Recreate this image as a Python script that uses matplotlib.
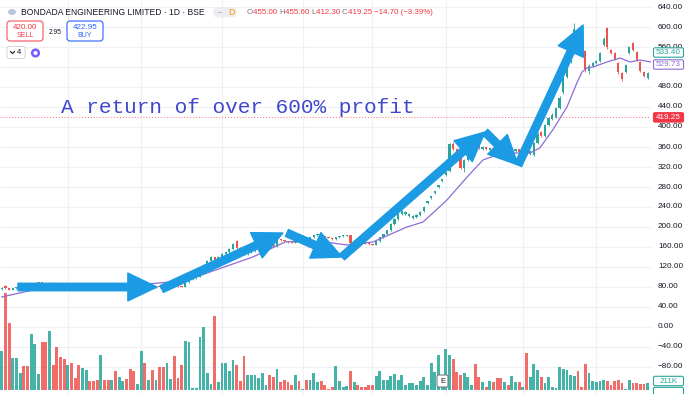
import matplotlib
matplotlib.use('Agg')
import matplotlib.pyplot as plt
from matplotlib.patches import FancyArrowPatch, FancyBboxPatch, Circle, Ellipse
from matplotlib.transforms import blended_transform_factory as blend

# ---------------- data ----------------
opens = [76, 82, 78, 75, 78, 80, 82, 80, 79, 84,
         88, 90, 87, 85, 89, 87, 85, 83, 81, 83,
         81, 80, 78, 80, 82, 81, 80, 79, 83, 82,
         81, 82, 80, 81, 82, 81, 79, 78, 79, 83,
         81, 82, 80, 82, 80, 79, 83, 85, 83, 82,
         81, 90, 96, 98, 101, 110, 124, 132, 140, 134,
         140, 146, 150, 156, 172, 158, 152, 146, 150, 152,
         156, 160, 164, 168, 165, 162, 176, 174, 172, 170,
         169, 176, 174, 180, 177, 180, 184, 186, 182, 180,
         179, 176, 180, 182, 183, 184, 168, 172, 170, 168,
         167, 166, 165, 172, 180, 186, 194, 206, 216, 226,
         226, 222, 218, 220, 224, 232, 248, 258, 268, 280,
         292, 304, 312, 366, 356, 344, 318, 334, 342, 380,
         368, 356, 360, 354, 358, 354, 350, 346, 354, 348,
         352, 356, 348, 354, 346, 344, 368, 390, 382, 404,
         416, 420, 438, 470, 500, 530, 562, 574, 566, 552,
         512, 522, 528, 532, 564, 598, 554, 548, 528, 508,
         510, 548, 568, 550, 530, 510, 498]
closes = [79, 78, 75, 78, 80, 82, 80, 79, 84, 88,
          90, 87, 85, 89, 87, 85, 83, 81, 83, 81,
          80, 78, 80, 82, 81, 80, 79, 83, 82, 81,
          82, 80, 81, 82, 81, 79, 78, 79, 83, 81,
          82, 80, 82, 80, 79, 83, 85, 83, 82, 81,
          90, 96, 98, 101, 110, 124, 132, 140, 134, 140,
          146, 150, 156, 166, 158, 152, 146, 150, 152, 156,
          160, 164, 168, 165, 162, 176, 174, 172, 170, 169,
          176, 174, 180, 177, 180, 184, 186, 182, 180, 179,
          176, 180, 182, 183, 184, 168, 172, 170, 168, 167,
          166, 165, 172, 180, 186, 194, 206, 216, 226, 232,
          230, 226, 222, 224, 230, 240, 252, 262, 272, 284,
          296, 310, 366, 356, 344, 318, 334, 342, 372, 368,
          360, 360, 356, 358, 354, 350, 346, 354, 350, 352,
          356, 350, 352, 346, 352, 368, 386, 382, 404, 418,
          424, 438, 458, 500, 530, 560, 596, 566, 552, 514,
          522, 528, 532, 548, 576, 560, 548, 536, 510, 496,
          524, 560, 554, 534, 512, 502, 508]
highs = [80, 84, 79, 79, 81, 83, 83, 81, 85, 89,
         91, 91, 88, 90, 90, 88, 86, 84, 84, 84,
         82, 81, 81, 83, 83, 82, 81, 84, 84, 83,
         83, 83, 82, 83, 83, 82, 80, 80, 84, 84,
         83, 83, 83, 83, 81, 84, 86, 86, 84, 83,
         92, 98, 99, 102, 112, 126, 134, 142, 141, 142,
         148, 152, 158, 168, 174, 160, 154, 151, 154, 157,
         161, 165, 169, 169, 166, 178, 177, 175, 173, 171,
         177, 177, 184, 181, 181, 185, 187, 187, 183, 181,
         180, 181, 183, 184, 185, 185, 173, 173, 171, 169,
         168, 167, 173, 181, 187, 195, 208, 218, 228, 234,
         232, 228, 224, 226, 232, 242, 253, 263, 273, 285,
         297, 311, 368, 370, 358, 346, 336, 344, 380, 384,
         370, 362, 361, 359, 359, 356, 352, 356, 355, 353,
         357, 357, 353, 356, 354, 370, 390, 392, 406, 420,
         428, 440, 462, 520, 540, 570, 608, 580, 568, 554,
         526, 530, 534, 550, 580, 600, 556, 550, 530, 510,
         526, 562, 570, 552, 532, 512, 510]
lows = [75, 77, 74, 74, 77, 79, 79, 78, 78, 83,
        87, 86, 84, 84, 86, 84, 82, 80, 80, 80,
        79, 77, 77, 79, 80, 79, 78, 78, 81, 80,
        80, 79, 79, 80, 80, 78, 77, 77, 78, 80,
        80, 79, 79, 79, 78, 78, 82, 82, 81, 80,
        80, 89, 95, 97, 100, 109, 122, 130, 132, 133,
        139, 145, 149, 155, 156, 150, 144, 145, 149, 151,
        155, 159, 163, 164, 161, 161, 173, 171, 169, 168,
        168, 173, 173, 176, 176, 179, 183, 181, 179, 178,
        175, 175, 179, 181, 182, 166, 167, 169, 167, 166,
        165, 164, 164, 171, 179, 185, 193, 205, 215, 225,
        224, 220, 217, 219, 223, 231, 247, 257, 267, 279,
        291, 303, 310, 354, 342, 316, 310, 332, 340, 366,
        356, 354, 354, 353, 352, 348, 344, 345, 348, 347,
        350, 348, 347, 344, 345, 342, 366, 380, 380, 402,
        414, 418, 436, 466, 498, 528, 560, 562, 548, 510,
        506, 520, 526, 530, 562, 556, 546, 534, 506, 492,
        508, 546, 552, 532, 510, 500, 496]
volume_k = [1170, 2910, 2010, 960, 960, 510, 720, 720, 1680, 1380,
            480, 1440, 1440, 1770, 750, 1290, 990, 930, 750, 810,
            360, 750, 660, 600, 270, 270, 300, 1050, 300, 300,
            300, 570, 390, 270, 330, 630, 570, 180, 1170, 810,
            300, 600, 300, 690, 690, 810, 330, 1020, 360, 750,
            1470, 1440, 60, 60, 1590, 1890, 510, 180, 2220, 240,
            810, 810, 570, 900, 750, 270, 1020, 450, 450, 450,
            360, 510, 150, 450, 390, 630, 240, 300, 240, 150,
            450, 270, 30, 300, 300, 510, 240, 270, 150, 30,
            90, 720, 270, 90, 120, 570, 240, 150, 90, 90,
            150, 150, 420, 570, 300, 300, 420, 480, 300, 450,
            150, 210, 210, 150, 270, 390, 150, 810, 540, 1050,
            300, 1230, 1050, 930, 540, 450, 510, 390, 150, 780,
            390, 240, 90, 270, 240, 360, 360, 240, 150, 420,
            240, 240, 90, 1110, 390, 780, 600, 390, 210, 390,
            90, 60, 690, 630, 600, 450, 420, 570, 90, 780,
            510, 270, 240, 270, 300, 270, 150, 270, 300, 210,
            30, 300, 210, 210, 180, 180, 210]

# moving average readings: (bar index, value)
ma_bars = [0, 8.5, 26.8, 43, 50.5, 68.4, 77.2, 81.3, 90.2, 94, 101.1, 110.4,
           114.8, 121.3, 126.8, 131.1, 134.9, 139.3, 143.9, 146.6, 150.2, 154,
           156.7, 158.1, 159.4, 161.1, 164.9, 168.5, 171.2, 173.9, 176.9]
ma_vals = [60, 74, 80, 88, 94, 140, 170, 172, 168, 164, 170, 200,
           210, 254, 300, 334, 344, 348, 348, 358, 395, 440,
           488, 510, 518, 520, 530, 538, 530, 534, 530]

last_price = 419.25
price_ticks = [640, 600, 560, 520, 480, 440, 400, 360, 320, 280, 240, 200,
               160, 120, 80, 40, 0, -40, -80, -120]
hidden_tick_labels = [520, -120]   # covered by the value tags in the reference
month_bars = [18, 38, 60, 82, 101, 121, 142, 162]

# hand-drawn annotation arrows: (bar, price) -> (bar, price)
arrow_segments = [((4.4, 80), (42.3, 80)),
                  ((43.6, 76), (76.6, 188)),
                  ((77.7, 188), (92.7, 140)),
                  ((92.7, 140), (131.7, 390)),
                  ((131.7, 390), (140.7, 324)),
                  ((140.7, 324), (158.4, 604))]
annotation_text = "A return of over 600% profit"

title = "BONDADA ENGINEERING LIMITED \u00b7 1D \u00b7 BSE"
ohlc_parts = [("O", "455.00"), ("H", "455.60"), ("L", "412.30"), ("C", "419.25")]
change_text = "\u221214.70 (\u22123.39%)"

# ---------------- figure ----------------
W, H = 693, 394
fig = plt.figure(figsize=(W / 100, H / 100), dpi=100)
fig.patch.set_facecolor('white')
renderer = fig.canvas.get_renderer()

PLOT_W = 651
rect = [0, 0, PLOT_W / W, 1]
ax_v = fig.add_axes(rect)
ax = fig.add_axes(rect, sharex=ax_v)
ax.patch.set_alpha(0)
for a in (ax, ax_v):
    a.set_axis_off()

n = len(closes)
ax_v.set_xlim(-0.49, 176.9)
ax.set_ylim(-134, 654)
ax_v.set_ylim(-120, 11700)

UP, DN = '#26a69a', '#ef5350'
colors = [UP if c >= o else DN for o, c in zip(opens, closes)]

# grid
ax_v.hlines(price_ticks, 0, 1, transform=blend(ax_v.transAxes, ax.transData),
            color='#eef0f5', lw=0.8, zorder=0)
ax_v.vlines(month_bars, 0, 1, transform=blend(ax_v.transData, ax_v.transAxes),
            color='#eef0f5', lw=0.8, zorder=0)

# volume
ax_v.bar(range(n), volume_k, width=0.78, color=colors, alpha=0.85, zorder=2,
         linewidth=0)

# candles
ax.vlines(range(n), lows, highs, color=colors, lw=0.6, zorder=3)
bodies = [max(abs(c - o), 1.2) for o, c in zip(opens, closes)]
bottoms = [min(o, c) for o, c in zip(opens, closes)]
ax.bar(range(n), bodies, bottom=bottoms, width=0.62, color=colors, zorder=3,
       linewidth=0)

# MA line
ax.plot(ma_bars, ma_vals, color='#8d6cd4', lw=0.9, zorder=4)

# last price line
ax.axhline(last_price, color='#f23645', lw=0.7, ls=(0, (1, 2)), alpha=0.7, zorder=2)

# arrows
for (p0, p1) in arrow_segments:
    arr = FancyArrowPatch(p0, p1, arrowstyle='simple,head_length=21,head_width=20,tail_width=5.4',
                          mutation_scale=1, color='#1b9be3', shrinkA=0, shrinkB=0,
                          zorder=6, joinstyle='round', capstyle='round')
    ax.add_patch(arr)

# ---------------- overlay (pixel coords) ----------------
ov = fig.add_axes([0, 0, 1, 1], zorder=10)
ov.set_xlim(0, W)
ov.set_ylim(H, 0)
ov.set_axis_off()
ov.patch.set_alpha(0)

UI = 'Liberation Sans'
MONO = 'Liberation Mono'


def measure(s, size, family, weight='normal'):
    t = fig.text(0, 0, s, fontsize=size, family=family, weight=weight)
    w = t.get_window_extent(renderer).width
    t.remove()
    return w


# big annotation text
base = 16
w0 = measure(annotation_text, base, MONO)
ov.text(61, 113, annotation_text, fontsize=base * 356 / w0, family=MONO,
        color='#3f48cc', va='baseline', ha='left')

# title
tsize = 6 * 182 / measure(title, 6, UI)
ov.add_patch(Ellipse((12, 12), 8, 6, fc='#b8c7dc', ec='none'))
ov.text(21, 12.5, title, fontsize=tsize, family=UI, color='#131722', va='center', ha='left')

# pill with D
ov.add_patch(FancyBboxPatch((213, 7.5), 24, 10, boxstyle='round,pad=0,rounding_size=5',
                            fc='#eceef2', ec='none'))
ov.text(220, 12.5, '\u2013', fontsize=6, family=UI, color='#9598a1', va='center', ha='center')
ov.text(231, 12.5, 'D', fontsize=6.3, family=UI, color='#ff9800', va='center', ha='center')

# OHLC pieces
pieces = []
for lab, val in ohlc_parts:
    pieces.append((lab, '#787b86'))
    pieces.append((val + ' ', '#f23645'))
pieces.append((change_text, '#f23645'))
full = ''.join(p for p, _ in pieces)
osize = 6 * 189 / measure(full, 6, UI)
x = 247
for s, col in pieces:
    ov.text(x, 12.5, s, fontsize=osize, family=UI, color=col, va='center', ha='left')
    x += measure(s, osize, UI)

# SELL / BUY boxes
ov.add_patch(FancyBboxPatch((7, 21), 36, 20, boxstyle='round,pad=0,rounding_size=3',
                            fc='white', ec='#f7525f', lw=0.8))
ov.text(25, 27.5, '420.00', fontsize=5.8, family=UI, color='#f23645', ha='center', va='center')
ov.text(25, 35.5, 'SELL', fontsize=5, family=UI, color='#f23645', ha='center', va='center')
ov.text(55, 32, '2.95', fontsize=4.8, family=UI, color='#131722', ha='center', va='center')
ov.add_patch(FancyBboxPatch((67, 21), 36, 20, boxstyle='round,pad=0,rounding_size=3',
                            fc='white', ec='#2962ff', lw=0.8))
ov.text(85, 27.5, '422.95', fontsize=5.8, family=UI, color='#2962ff', ha='center', va='center')
ov.text(85, 35.5, 'BUY', fontsize=5, family=UI, color='#2962ff', ha='center', va='center')

# collapse box and gear
ov.add_patch(FancyBboxPatch((7, 46.5), 18, 12, boxstyle='round,pad=0,rounding_size=2',
                            fc='white', ec='#d1d4dc', lw=0.7))
ov.plot([10.5, 12.5, 14.5], [51.5, 53.5, 51.5], color='#131722', lw=0.8)
ov.text(19, 52.8, '4', fontsize=5.5, family=UI, color='#131722', ha='center', va='center')
ov.add_patch(Circle((35.5, 53), 3.3, fill=False, ec='#7b5cff', lw=1.8))

# right price scale labels
ytr = blend(ov.transData, ax.transData)
for p in price_ticks:
    if p in hidden_tick_labels:
        continue
    s = f"{p:.2f}".replace('-', '\u2212')
    ov.text(658, p, s, transform=ytr, fontsize=5.9, family=UI, color='#131722',
            ha='left', va='center')


def tag(y, s, fc, ec, tc):
    ov.add_patch(FancyBboxPatch((653.5, y - 4.7), 30, 9.4, boxstyle='round,pad=0,rounding_size=1.5',
                                fc=fc, ec=ec, lw=0.8, zorder=5))
    if s:
        ov.text(668.5, y + 0.3, s, fontsize=5.9, family=UI, color=tc, ha='center', va='center', zorder=6)


tag(52.5, '533.40', 'white', '#26a69a', '#26a69a')
tag(64.5, '529.73', 'white', '#8d6cd4', '#8d6cd4')
ly = ax.transData.transform((0, last_price))[1]
tag(H - ly, f"{last_price:.2f}", '#f23645', '#f23645', 'white')
tag(392, '', 'white', '#26a69a', '#26a69a')
tag(381, '211K', 'white', '#26a69a', '#26a69a')

# earnings marker
ov.add_patch(FancyBboxPatch((437, 375), 11, 12, boxstyle='round,pad=0,rounding_size=1.5',
                            fc='white', ec='#787b86', lw=0.8, zorder=5))
ov.text(442.5, 381.3, 'E', fontsize=5.5, family=UI, color='#131722', ha='center', va='center', zorder=6)

fig.savefig('out.png', dpi=100, facecolor='white')
